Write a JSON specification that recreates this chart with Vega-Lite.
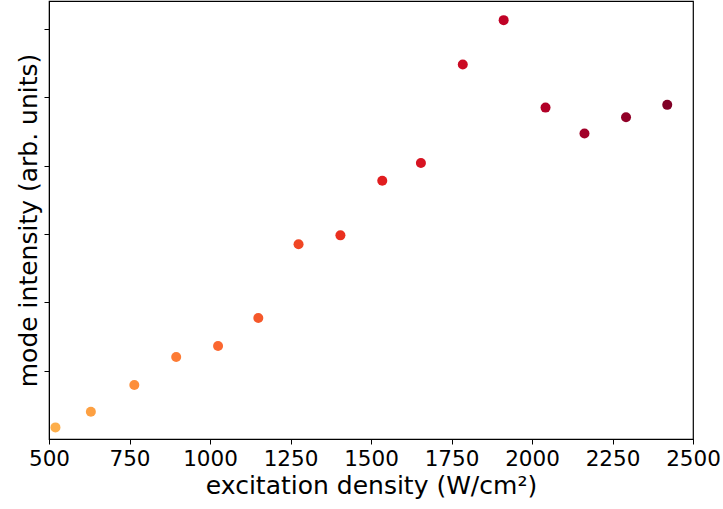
{
  "$schema": "https://vega.github.io/schema/vega-lite/v6.json",
  "width": 644,
  "height": 438,
  "autosize": "none",
  "padding": {"left": 49, "top": 1, "right": 30, "bottom": 70},
  "background": "white",
  "config": {
    "view": {"stroke": "#000", "strokeWidth": 1.2},
    "axis": {"grid": false, "domainColor": "#000", "tickColor": "#000", "labelColor": "#000", "titleColor": "#000", "labelFont": "DejaVu Sans", "titleFont": "DejaVu Sans", "titleFontWeight": "normal", "labelFontSize": 21.5, "titleFontSize": 25, "tickSize": 5}
  },
  "data": {"values": [
    {"density": 520, "intensity": 0.17},
    {"density": 630, "intensity": 0.40},
    {"density": 765, "intensity": 0.79},
    {"density": 895, "intensity": 1.20},
    {"density": 1025, "intensity": 1.36},
    {"density": 1150, "intensity": 1.77},
    {"density": 1275, "intensity": 2.85},
    {"density": 1405, "intensity": 2.98},
    {"density": 1535, "intensity": 3.78},
    {"density": 1655, "intensity": 4.04},
    {"density": 1785, "intensity": 5.48},
    {"density": 1912, "intensity": 6.13},
    {"density": 2042, "intensity": 4.85},
    {"density": 2163, "intensity": 4.47},
    {"density": 2292, "intensity": 4.71},
    {"density": 2420, "intensity": 4.89}
  ]},
  "mark": {"type": "circle", "opacity": 1, "size": 100},
  "encoding": {
    "x": {"field": "density", "type": "quantitative", "scale": {"domain": [500, 2500], "nice": false, "zero": false},
      "axis": {"title": "excitation density (W/cm²)", "values": [500, 750, 1000, 1250, 1500, 1750, 2000, 2250, 2500], "format": "d", "labelOverlap": false, "labelFlush": false, "labelPadding": 4, "titlePadding": 4}},
    "y": {"field": "intensity", "type": "quantitative", "scale": {"domain": [0, 6.41], "nice": false, "zero": false},
      "axis": {"title": "mode intensity (arb. units)", "values": [1, 2, 3, 4, 5, 6], "labels": false, "titlePadding": 2}},
    "color": {"field": "density", "type": "quantitative", "scale": {"range": ["#fdae4b", "#fc6b32", "#e7211d", "#bd0026", "#800026"]}, "legend": null}
  }
}
